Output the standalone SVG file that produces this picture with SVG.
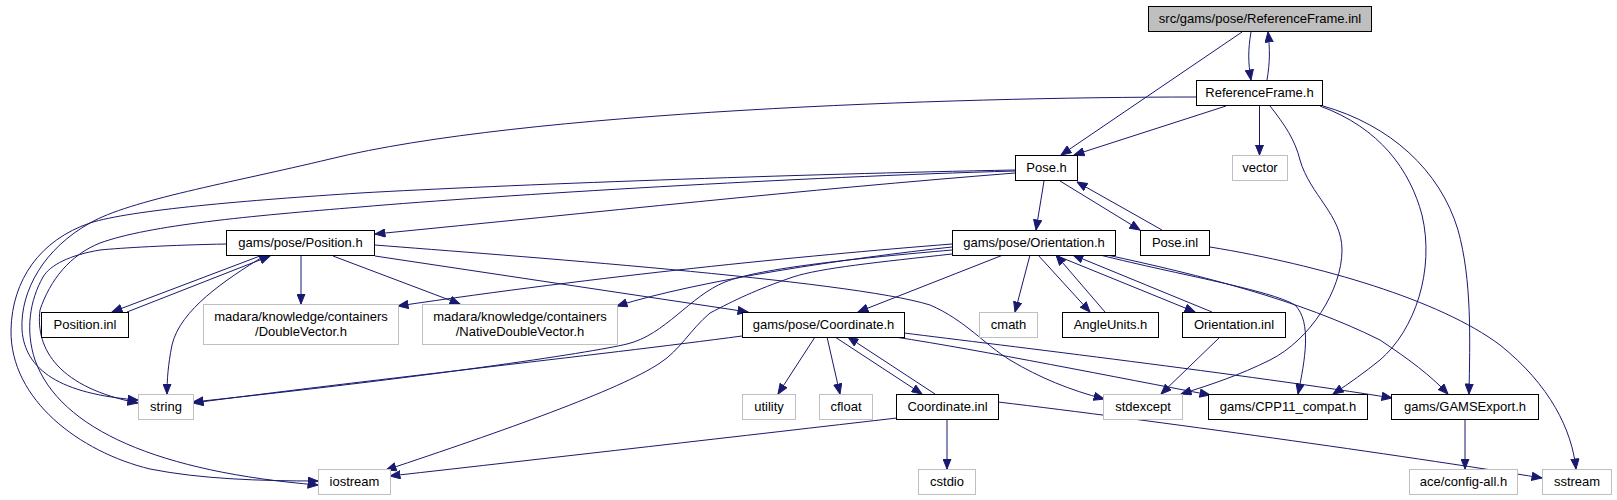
<svg xmlns="http://www.w3.org/2000/svg" width="1617" height="500" viewBox="0 0 1617 500">
<style>
.nd rect{fill:#fff;stroke:#000;stroke-width:1}
.nd.gr rect{stroke:#bfbfbf}
.nd.cur rect{fill:#bfbfbf}
.nd text{font-family:"Liberation Sans",Arial,Helvetica,sans-serif;font-size:13px;fill:#000;text-anchor:middle}
#edges path{fill:none;stroke:#191970;stroke-width:1;marker-end:url(#arr)}
</style>
<defs>
<marker id="arr" markerWidth="11" markerHeight="9" refX="10.5" refY="4.5" orient="auto" markerUnits="userSpaceOnUse">
<path d="M0.5,0.5 L10.5,4.5 L0.5,8.5 z" fill="#191970" stroke="#191970" stroke-width="1"/>
</marker>
</defs>
<rect width="1617" height="500" fill="#fff"/>
<g id="edges">
<path d="M1251,32 C1248,50 1248,62 1251,80"/>
<path d="M1267,80 C1270,62 1270,50 1268,32"/>
<path d="M1242,32 L1061,155"/>
<path d="M1226,106 L1074,155"/>
<path d="M1259.5,106 L1259.5,155"/>
<path d="M1196,97 C950,97 520,112 330,159 C230,183 130,200 90,223 C45,248 20,290 22,330 C25,370 60,394 138,400"/>
<path d="M1270,106 C1285,125 1295,140 1300,160 C1310,195 1342,215 1342,250 C1342,290 1310,340 1270,360 C1240,375 1210,385 1181,394"/>
<path d="M1320,106 C1380,128 1410,170 1422,215 C1435,270 1415,330 1380,360 C1365,372 1350,383 1333,394"/>
<path d="M1323,106 C1390,125 1440,170 1458,230 C1472,280 1470,340 1469,394"/>
<path d="M1015,173 C800,190 600,212 375,234"/>
<path d="M1044,181 L1036,230"/>
<path d="M1060,181 L1140,230"/>
<path d="M1162,230 L1077,182"/>
<path d="M1015,170 C800,174 500,185 360,193 C250,200 130,210 90,223 C40,240 12,280 11,330 C10,400 80,452 150,469 C200,479 260,481 318,481"/>
<path d="M1015,171 C800,177 500,195 360,207 C250,216 150,225 100,243 C70,255 50,280 40,310 C35,350 60,388 138,403"/>
<path d="M1210,247 C1320,265 1440,300 1500,345 C1550,385 1572,430 1576,469"/>
<path d="M1003,255 L858,312"/>
<path d="M1030,255 L1015,312"/>
<path d="M1038,255 L1090,312"/>
<path d="M1105,312 L1056,255"/>
<path d="M1055,255 L1195,312"/>
<path d="M1212,312 L1073,255"/>
<path d="M952,250 C860,258 760,268 725,282 C690,296 665,335 627,344 C590,353 420,378 193,402"/>
<path d="M952,254 C880,262 820,268 793,277 C755,290 735,300 710,313 C690,330 680,350 660,363 C620,390 500,432 386,470"/>
<path d="M952,244 C800,256 600,276 398,306"/>
<path d="M952,247 C850,258 700,280 617,306"/>
<path d="M1100,255 C1180,275 1270,290 1295,305 C1312,322 1305,360 1298,394"/>
<path d="M1107,255 C1200,275 1300,300 1380,340 C1410,360 1430,375 1448,394"/>
<path d="M260,256 L112,312"/>
<path d="M127,312 L270,256"/>
<path d="M301,256 L301,304"/>
<path d="M333,256 L460,304"/>
<path d="M375,256 L748,312"/>
<path d="M375,245 C500,255 850,280 930,305 C965,320 985,345 1010,360 C1040,378 1070,390 1104,399"/>
<path d="M264,256 C225,280 180,310 172,345 C168,365 167,380 167,394"/>
<path d="M227,244 C170,245 120,248 100,250 C70,255 50,265 43,277 C30,300 25,330 35,360 C60,430 160,472 318,485"/>
<path d="M742,336 C600,355 350,382 193,403"/>
<path d="M815,337 L778,394"/>
<path d="M827,337 L840,394"/>
<path d="M835,337 L922,394"/>
<path d="M935,394 L848,337"/>
<path d="M895,337 C980,350 1120,378 1210,395"/>
<path d="M904,333 C1000,345 1250,375 1392,398"/>
<path d="M897,418 C750,435 550,458 390,476"/>
<path d="M947,419 L947,469"/>
<path d="M998,402 C1150,420 1400,455 1542,478"/>
<path d="M1220,337 L1161,394"/>
<path d="M1465,419 L1465,469"/>
</g>
<g id="n_rfinl" class="nd cur"><rect x="1148.5" y="6.5" width="223" height="25"/><text x="1260" y="23">src/gams/pose/ReferenceFrame.inl</text></g>
<g id="n_rfh" class="nd"><rect x="1196.5" y="80.5" width="126" height="25"/><text x="1259.5" y="97">ReferenceFrame.h</text></g>
<g id="n_vector" class="nd gr"><rect x="1232.5" y="155.5" width="55" height="25"/><text x="1260" y="172">vector</text></g>
<g id="n_poseh" class="nd"><rect x="1015.5" y="155.5" width="62" height="25"/><text x="1046.5" y="172">Pose.h</text></g>
<g id="n_orienth" class="nd"><rect x="952.5" y="230.5" width="163" height="25"/><text x="1034" y="247">gams/pose/Orientation.h</text></g>
<g id="n_poseinl" class="nd"><rect x="1140.5" y="230.5" width="69" height="25"/><text x="1175" y="247">Pose.inl</text></g>
<g id="n_posh" class="nd"><rect x="226.5" y="230.5" width="148" height="25"/><text x="300.5" y="247">gams/pose/Position.h</text></g>
<g id="n_cmath" class="nd gr"><rect x="979.5" y="312.5" width="58" height="25"/><text x="1008.5" y="329">cmath</text></g>
<g id="n_angle" class="nd"><rect x="1062.5" y="312.5" width="96" height="25"/><text x="1110.5" y="329">AngleUnits.h</text></g>
<g id="n_orientinl" class="nd"><rect x="1182.5" y="312.5" width="103" height="25"/><text x="1234" y="329">Orientation.inl</text></g>
<g id="n_posinl" class="nd"><rect x="41.5" y="312.5" width="87" height="25"/><text x="85" y="329">Position.inl</text></g>
<g id="n_dv" class="nd gr"><rect x="203.5" y="304.5" width="195" height="40"/><text x="301" y="321">madara/knowledge/containers</text><text x="301" y="335.5">/DoubleVector.h</text></g>
<g id="n_ndv" class="nd gr"><rect x="422.5" y="304.5" width="195" height="40"/><text x="520" y="321">madara/knowledge/containers</text><text x="520" y="335.5">/NativeDoubleVector.h</text></g>
<g id="n_coordh" class="nd"><rect x="742.5" y="312.5" width="162" height="25"/><text x="823.5" y="329">gams/pose/Coordinate.h</text></g>
<g id="n_string" class="nd gr"><rect x="138.5" y="394.5" width="55" height="25"/><text x="166" y="411">string</text></g>
<g id="n_utility" class="nd gr"><rect x="742.5" y="394.5" width="53" height="25"/><text x="769" y="411">utility</text></g>
<g id="n_cfloat" class="nd gr"><rect x="819.5" y="394.5" width="53" height="25"/><text x="846" y="411">cfloat</text></g>
<g id="n_coordinl" class="nd"><rect x="896.5" y="394.5" width="102" height="25"/><text x="947.5" y="411">Coordinate.inl</text></g>
<g id="n_stdexcept" class="nd gr"><rect x="1103.5" y="394.5" width="79" height="25"/><text x="1143" y="411">stdexcept</text></g>
<g id="n_cpp11" class="nd"><rect x="1208.5" y="394.5" width="159" height="25"/><text x="1288" y="411">gams/CPP11_compat.h</text></g>
<g id="n_gamsexport" class="nd"><rect x="1391.5" y="394.5" width="147" height="25"/><text x="1465" y="411">gams/GAMSExport.h</text></g>
<g id="n_iostream" class="nd gr"><rect x="318.5" y="469.5" width="72" height="25"/><text x="354.5" y="486">iostream</text></g>
<g id="n_cstdio" class="nd gr"><rect x="918.5" y="469.5" width="57" height="25"/><text x="947" y="486">cstdio</text></g>
<g id="n_ace" class="nd gr"><rect x="1409.5" y="469.5" width="108" height="25"/><text x="1463.5" y="486">ace/config-all.h</text></g>
<g id="n_sstream" class="nd gr"><rect x="1542.5" y="469.5" width="69" height="25"/><text x="1577" y="486">sstream</text></g>
</svg>
